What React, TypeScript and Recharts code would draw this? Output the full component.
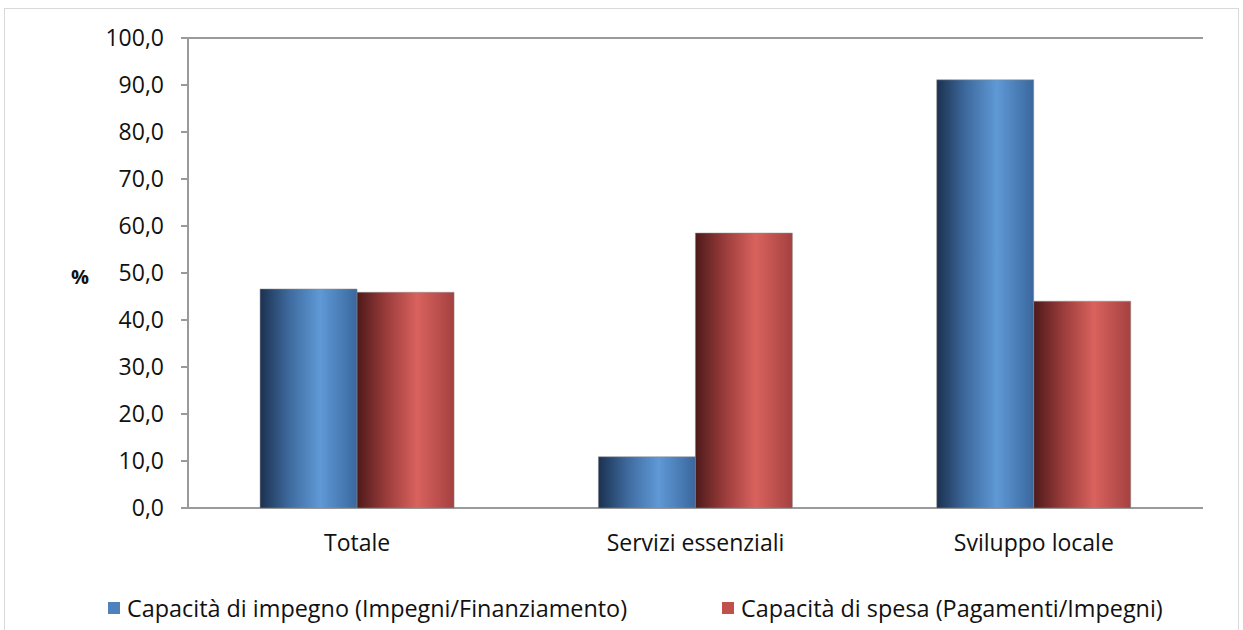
import React from 'react';
import { BarChart, Bar, XAxis, YAxis, CartesianGrid, Legend } from 'recharts';

const categories = ['Totale', 'Servizi essenziali', 'Sviluppo locale'];
const impegno = [46.6, 10.9, 91.1];
const spesa = [45.9, 58.5, 44.0];
const yTicks = [0, 10, 20, 30, 40, 50, 60, 70, 80, 90, 100];
const boundaryTicks = [0, 1, 2, 3];

const SERIES_IMPEGNO = 'Capacità di impegno (Impegni/Finanziamento)';
const SERIES_SPESA = 'Capacità di spesa (Pagamenti/Impegni)';

const data = categories.map((name, i) => ({ name, impegno: impegno[i], spesa: spesa[i] }));

const FONT = '"Open Sans", sans-serif';
const AXIS = '#9a9a9a';
const FS = 23;

function LegendContent() {
  const item = (left: number, color: string, label: string) => (
    <div style={{ position: 'absolute', left, top: 0, display: 'flex', alignItems: 'center', whiteSpace: 'nowrap', height: 30 }}>
      <span style={{ width: 12, height: 12, background: color, display: 'inline-block', marginRight: 7 }} />
      <span style={{ fontSize: 23.4, color: '#111', fontFamily: FONT, lineHeight: '30px' }}>{label}</span>
    </div>
  );
  return (
    <div style={{ position: 'relative', width: 1233, height: 30 }}>
      {item(103, '#4f81bd', SERIES_IMPEGNO)}
      {item(717, '#c0504d', SERIES_SPESA)}
    </div>
  );
}

export default function App() {
  return (
    <div style={{ position: 'absolute', left: 4, top: 8, width: 1233, height: 640, border: '1px solid #d9d9d9', background: '#fff' }}>
      <BarChart
        width={1233}
        height={621}
        data={data}
        margin={{ top: 29, right: 35, left: 0, bottom: 82 }}
        barCategoryGap="21.3%"
        barGap={0}
        style={{ fontFamily: FONT }}
      >
        <defs>
          <linearGradient id="gBlue" x1="0" y1="0" x2="1" y2="0">
            <stop offset="0%" stopColor="#1b3150" />
            <stop offset="30%" stopColor="#3e6a9e" />
            <stop offset="62%" stopColor="#5f99d6" />
            <stop offset="100%" stopColor="#3a679d" />
          </linearGradient>
          <linearGradient id="gRed" x1="0" y1="0" x2="1" y2="0">
            <stop offset="0%" stopColor="#4e1a1a" />
            <stop offset="30%" stopColor="#9a3c3b" />
            <stop offset="62%" stopColor="#d9625d" />
            <stop offset="100%" stopColor="#a44140" />
          </linearGradient>
        </defs>
        <CartesianGrid vertical={false} stroke={AXIS} strokeWidth={2} />
        <XAxis
          xAxisId="b"
          type="number"
          dataKey={() => 0}
          domain={[0, 3]}
          ticks={boundaryTicks}
          tick={false}
          tickSize={7}
          tickLine={{ stroke: AXIS, strokeWidth: 2 }}
          axisLine={{ stroke: AXIS, strokeWidth: 2 }}
          height={0}
          allowDataOverflow
        />
        <XAxis
          xAxisId="c"
          dataKey="name"
          tickLine={false}
          axisLine={false}
          tickSize={0}
          tickMargin={27}
          height={40}
          interval={0}
          tick={{ fill: '#111', fontSize: FS, fontFamily: FONT }}
        />
        <YAxis
          yAxisId="l"
          domain={[0, 100]}
          ticks={yTicks}
          interval={0}
          width={183}
          tickSize={7}
          tickMargin={17}
          tickFormatter={(v: number) => v.toFixed(1).replace('.', ',')}
          tick={{ fill: '#111', fontSize: FS, fontFamily: FONT }}
          tickLine={{ stroke: AXIS, strokeWidth: 2 }}
          axisLine={{ stroke: AXIS, strokeWidth: 2 }}
          label={{ value: '%', position: 'insideLeft', offset: 66, dy: 4, fill: '#111', fontSize: 20, fontWeight: 'bold', fontFamily: FONT }}
        />
        <YAxis
          yAxisId="r"
          orientation="right"
          domain={[0, 100]}
          width={0}
          tick={false}
          tickLine={false}
          axisLine={{ stroke: AXIS, strokeWidth: 2 }}
        />
        <Legend
          layout="horizontal"
          verticalAlign="middle"
          align="center"
          wrapperStyle={{ left: 0, top: 584, width: 1233 }}
          content={() => <LegendContent />}
        />
        <Bar xAxisId="c" yAxisId="l" dataKey="impegno" name={SERIES_IMPEGNO} fill="url(#gBlue)" stroke="#8c8c8c" strokeWidth={0.5} isAnimationActive={false} />
        <Bar xAxisId="c" yAxisId="l" dataKey="spesa" name={SERIES_SPESA} fill="url(#gRed)" stroke="#8c8c8c" strokeWidth={0.5} isAnimationActive={false} />
      </BarChart>
    </div>
  );
}
